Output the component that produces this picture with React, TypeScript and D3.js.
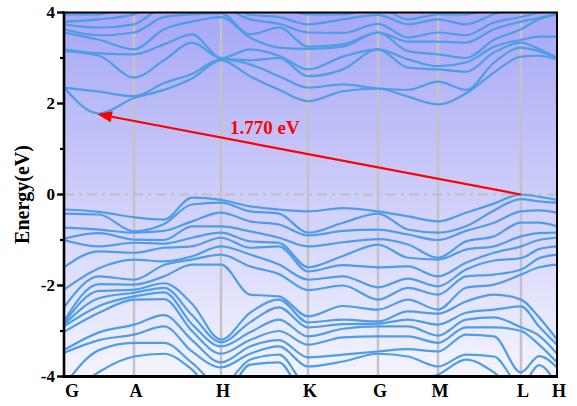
import React from 'react';
import * as d3 from 'd3';

// High-symmetry path
const kLabels = ['G', 'A', 'H', 'K', 'G', 'M', 'L', 'H'];
const kTicks = [0, 0.70, 1.57, 2.44, 3.14, 3.74, 4.57, 4.93];
// k positions at which energies were read
const kSamples = [0, 0.35, 0.70, 1.00, 1.28, 1.57, 1.86, 2.15, 2.44, 2.79, 3.14, 3.44, 3.74, 4.02, 4.30, 4.57, 4.75, 4.93];

// Valence band energies (eV) at each k sample, top band first
const valenceAtK = [
  [-0.33, -0.42, -0.73, -0.97, -1.00, -1.60, -2.09, -2.48, -2.78, -2.82, -2.86, -2.90, -3.02, -3.42, -3.48, -4.20, -4.50],
  [-0.38, -0.44, -0.77, -0.85, -1.14, -1.25, -1.62, -1.80, -1.97, -2.12, -2.28, -2.45, -2.60, -3.03, -3.20, -3.42, -3.90],
  [-0.50, -0.81, -0.84, -0.99, -1.06, -1.28, -1.43, -1.87, -1.98, -2.09, -2.16, -2.24, -2.31, -2.86, -3.08, -3.26, -3.56],
  [-0.55, -0.65, -0.80, -1.00, -1.08, -1.17, -1.47, -1.55, -1.80, -1.95, -2.05, -2.15, -2.30, -2.65, -2.90, -3.26, -3.50],
  [-0.07, -0.22, -0.59, -0.70, -0.95, -1.14, -1.36, -1.43, -1.54, -2.40, -2.65, -2.85, -3.00, -3.20, -3.45, -3.70, -3.85],
  [-0.12, -0.18, -0.40, -0.70, -0.84, -0.95, -1.14, -1.32, -1.54, -3.19, -3.25, -3.34, -3.50, -3.69, -3.80, -4.20, -4.50],
  [-0.26, -0.37, -0.59, -0.81, -1.03, -1.17, -1.32, -1.58, -2.20, -2.60, -2.81, -3.03, -3.20, -3.34, -3.50, -3.63, -3.74],
  [-0.33, -0.42, -0.66, -0.95, -1.06, -1.14, -1.54, -1.75, -2.24, -2.31, -2.48, -2.75, -3.00, -3.20, -3.34, -3.52, -3.69],
  [-0.37, -0.84, -0.90, -1.14, -1.60, -1.69, -1.87, -2.10, -2.68, -2.81, -2.92, -3.12, -3.30, -3.58, -3.78, -4.20, -4.50],
  [-0.30, -0.62, -0.80, -1.05, -1.35, -1.55, -1.80, -2.00, -2.45, -2.75, -2.85, -2.95, -3.14, -3.52, -3.67, -4.10, -4.40],
  [-0.37, -0.42, -0.77, -0.98, -1.10, -1.60, -2.04, -2.31, -2.53, -2.79, -2.84, -2.90, -3.12, -3.45, -3.50, -4.20, -4.50],
  [-0.48, -0.77, -0.88, -1.10, -1.39, -1.58, -1.85, -2.05, -2.31, -2.57, -2.75, -2.90, -3.12, -3.40, -3.56, -4.10, -4.40],
  [-0.59, -0.84, -1.00, -1.39, -1.43, -1.80, -2.02, -2.20, -2.53, -2.62, -2.86, -3.10, -3.26, -3.45, -3.78, -3.96, -4.30],
  [-0.40, -0.70, -0.80, -1.03, -1.21, -1.50, -1.65, -1.80, -2.05, -2.35, -2.60, -2.75, -2.92, -3.08, -3.52, -3.63, -4.10],
  [-0.20, -0.35, -0.62, -0.92, -1.14, -1.28, -1.45, -1.76, -1.98, -2.20, -2.53, -2.70, -2.92, -3.12, -3.56, -3.91, -4.20],
  [0.00, -0.10, -0.37, -0.62, -0.92, -1.14, -1.40, -1.65, -1.76, -2.31, -2.46, -2.92, -3.00, -3.91, -4.20, -4.40, -4.60],
  [-0.05, -0.15, -0.35, -0.62, -0.85, -1.00, -1.20, -1.40, -1.60, -2.70, -2.90, -3.10, -3.30, -3.55, -3.75, -4.20, -4.40],
  [-0.12, -0.18, -0.40, -0.70, -0.84, -0.95, -1.14, -1.32, -1.54, -3.19, -3.30, -3.50, -3.69, -3.80, -4.20, -4.40, -4.60],
];

// Conduction band energies (eV) at each k sample, lowest band first
const conductionAtK = [
  [2.35, 2.35, 3.15, 3.19, 3.56, 3.63, 3.74, 3.80, 3.96, 4.20],
  [1.78, 2.26, 3.05, 3.10, 3.40, 3.50, 3.67, 3.85, 3.96, 4.20],
  [2.12, 2.16, 2.57, 3.08, 3.19, 3.56, 3.74, 3.96, 4.20, 4.30],
  [2.30, 2.45, 2.95, 3.30, 3.63, 3.90, 4.10, 4.20, 4.30, 4.40],
  [2.55, 2.65, 3.34, 3.52, 3.80, 3.96, 4.10, 4.20, 4.30, 4.40],
  [2.95, 2.97, 2.99, 3.00, 3.90, 3.98, 4.10, 4.20, 4.30, 4.40],
  [2.60, 2.86, 2.95, 3.19, 3.45, 3.52, 3.85, 3.95, 4.10, 4.20],
  [2.30, 2.60, 3.00, 3.05, 3.23, 3.67, 3.75, 3.90, 4.10, 4.20],
  [2.05, 2.35, 2.60, 2.75, 3.20, 3.25, 3.56, 3.74, 3.96, 4.20],
  [2.27, 2.42, 2.75, 3.03, 3.25, 3.30, 3.55, 3.85, 3.96, 4.20],
  [2.33, 2.33, 3.19, 3.19, 3.56, 3.56, 3.75, 3.95, 4.10, 4.20],
  [2.15, 2.30, 2.79, 2.97, 3.15, 3.36, 3.45, 3.74, 3.85, 4.10],
  [1.98, 2.48, 2.75, 2.82, 3.08, 3.36, 3.56, 3.85, 3.96, 4.10],
  [2.22, 2.30, 2.70, 2.90, 3.00, 3.34, 3.50, 3.74, 3.96, 4.10],
  [2.68, 2.90, 3.12, 3.25, 3.40, 3.63, 3.78, 3.96, 4.10, 4.20],
  [3.03, 3.23, 3.34, 3.40, 3.63, 3.80, 3.90, 4.10, 4.20, 4.30],
  [3.05, 3.15, 3.20, 3.47, 3.85, 3.88, 4.00, 4.10, 4.20, 4.30],
  [2.97, 2.99, 3.01, 3.47, 3.96, 3.98, 4.10, 4.20, 4.30, 4.40],
];

const yMajorTicks = [-4, -2, 0, 2, 4];
const yMinorTicks = [-3, -1, 1, 3];
const gapText = '1.770 eV';
const vbm = { k: 4.57, e: 0.0 };
const cbm = { k: 0.33, e: 1.77 };
const gapTextPos = { k: 1.66, e: 1.33 };

const W = 577;
const H = 406;
const FONT = '"Liberation Serif", "Times New Roman", serif';

function bandsFrom(cols: number[][]): [number, number][][] {
  const n = cols[0].length;
  const out: [number, number][][] = [];
  for (let i = 0; i < n; i++) {
    out.push(cols.map((c, j) => [kSamples[j], c[i]] as [number, number]));
  }
  return out;
}

export default function App() {
  const x = d3.scaleLinear().domain([0, 4.93]).range([64, 557]);
  const y = d3.scaleLinear().domain([-4, 4]).range([376.5, 12.5]);
  const line = d3
    .line<[number, number]>()
    .x((d) => x(d[0]))
    .y((d) => y(d[1]))
    .curve(d3.curveMonotoneX);

  const bands = [...bandsFrom(valenceAtK), ...bandsFrom(conductionAtK)];

  const x0 = x(0), x1 = x(4.93), yTop = y(4), yBot = y(-4);

  // arrow geometry
  const ax1 = x(vbm.k), ay1 = y(vbm.e);
  const ax2 = x(cbm.k), ay2 = y(cbm.e);
  const ang = Math.atan2(ay2 - ay1, ax2 - ax1);
  const headL = 15, headW = 5.5;
  const bx = ax2 - headL * Math.cos(ang), by = ay2 - headL * Math.sin(ang);
  const px = -Math.sin(ang), py = Math.cos(ang);
  const head = `${ax2},${ay2} ${bx + headW * px},${by + headW * py} ${bx - headW * px},${by - headW * py}`;

  return (
    <svg width={W} height={H} style={{ position: 'absolute', left: 0, top: 0, background: '#fff' }}>
      <defs>
        <linearGradient id="bg" x1="0" y1="0" x2="0" y2="1">
          <stop offset="0%" stopColor="#a7a7f5" />
          <stop offset="100%" stopColor="#f4f4ff" />
        </linearGradient>
        <clipPath id="plot">
          <rect x={x0} y={yTop} width={x1 - x0} height={yBot - yTop} />
        </clipPath>
      </defs>
      <rect x={x0} y={yTop} width={x1 - x0} height={yBot - yTop} fill="url(#bg)" />
      <g clipPath="url(#plot)">
        {kTicks.slice(1, -1).map((k, i) => (
          <line key={i} x1={x(k)} x2={x(k)} y1={yTop} y2={yBot} stroke="#c3c3c3" strokeWidth={2.5} />
        ))}
        <line x1={x0} x2={x1} y1={y(0)} y2={y(0)} stroke="#c0c0c0" strokeWidth={2.2} strokeDasharray="10 5 3 5" />
        {bands.map((b, i) => (
          <path key={i} d={line(b) || ''} fill="none" stroke="#4f9de8" strokeWidth={2.2} strokeLinejoin="round" />
        ))}
      </g>
      <line x1={ax1} y1={ay1} x2={bx} y2={by} stroke="#ff0000" strokeWidth={2.2} />
      <polygon points={head} fill="#ff0000" />
      <text x={x(gapTextPos.k)} y={y(gapTextPos.e)} fill="#ff0000" fontFamily={FONT} fontWeight="bold" fontSize={19}>
        {gapText}
      </text>
      {/* frame */}
      <line x1={x0 - 1.2} x2={x1 + 1} y1={yTop} y2={yTop} stroke="#000" strokeWidth={2} />
      <line x1={x1} x2={x1} y1={yTop} y2={yBot} stroke="#000" strokeWidth={2} />
      <line x1={x0} x2={x0} y1={yTop - 1} y2={yBot + 1.5} stroke="#000" strokeWidth={2.6} />
      <line x1={x0 - 1.3} x2={x1 + 1} y1={yBot} y2={yBot} stroke="#000" strokeWidth={3} />
      {yMajorTicks.map((v) => (
        <g key={v}>
          <line x1={x0 - 7} x2={x0} y1={y(v)} y2={y(v)} stroke="#000" strokeWidth={2.4} />
          <text x={x0 - 9} y={y(v) + 5.5} textAnchor="end" fontFamily={FONT} fontWeight="bold" fontSize={17}>
            {v}
          </text>
        </g>
      ))}
      {yMinorTicks.map((v) => (
        <line key={v} x1={x0 - 4} x2={x0} y1={y(v)} y2={y(v)} stroke="#000" strokeWidth={2.2} />
      ))}
      {kLabels.map((l, i) => (
        <text
          key={i}
          x={x(kTicks[i]) + (i === 0 ? 8 : 2)}
          y={397}
          textAnchor="middle"
          fontFamily={FONT}
          fontWeight="bold"
          fontSize={18}
        >
          {l}
        </text>
      ))}
      <text
        transform={`translate(29, ${y(0)}) rotate(-90)`}
        textAnchor="middle"
        fontFamily={FONT}
        fontWeight="bold"
        fontSize={20}
      >
        Energy(eV)
      </text>
    </svg>
  );
}
